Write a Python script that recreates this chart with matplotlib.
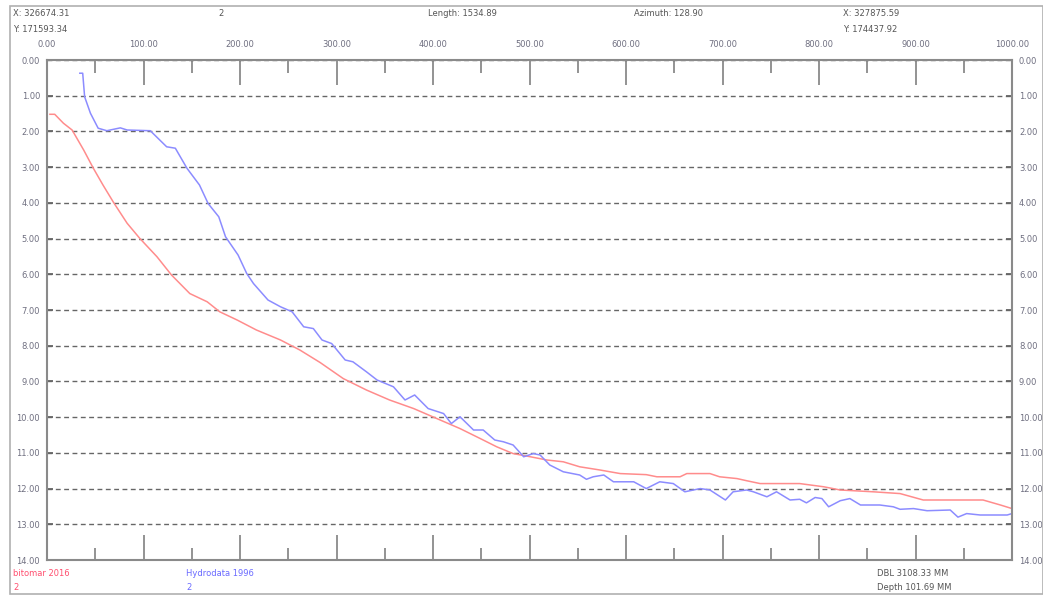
import matplotlib.pyplot as plt
from matplotlib.patches import Rectangle

# Survey profiles (chainage in m, depth in m)
red_x = [3, 8, 17, 26, 38, 48, 58, 69, 83, 96,
         114, 129, 148, 166, 179, 197, 217, 242, 262, 283,
         307, 331, 355, 380, 404, 428, 449, 466, 483, 501,
         518, 535, 552, 573, 594, 621, 632, 656, 663, 687,
         697, 715, 725, 739, 780, 805, 822, 856, 884, 908,
         939, 970, 988, 1000]
red_y = [1.52, 1.52, 1.77, 1.96, 2.52, 3.03, 3.5, 3.99, 4.57, 4.99,
         5.51, 6.02, 6.54, 6.77, 7.05, 7.28, 7.56, 7.84, 8.12, 8.47,
         8.92, 9.24, 9.52, 9.76, 10.04, 10.32, 10.6, 10.83, 11.02, 11.11,
         11.2, 11.25, 11.39, 11.48, 11.58, 11.61, 11.67, 11.67, 11.58, 11.58,
         11.67, 11.72, 11.78, 11.86, 11.86, 11.95, 12.04, 12.09, 12.14, 12.32,
         12.32, 12.32, 12.46, 12.56]

blue_x = [34, 37, 39, 45, 53, 62, 76, 83, 107, 124,
          133, 145, 158, 167, 178, 185, 198, 207, 214, 229,
          242, 254, 266, 276, 285, 295, 309, 317, 331, 342,
          359, 371, 381, 395, 411, 419, 428, 442, 452, 464,
          473, 483, 494, 504, 511, 521, 535, 552, 559, 566,
          577, 587, 608, 621, 635, 649, 661, 677, 687, 703,
          711, 725, 732, 746, 756, 770, 780, 787, 796, 803,
          810, 822, 832, 843, 863, 877, 884, 898, 912, 936,
          944, 953, 967, 995, 1000]
blue_y = [0.37, 0.37, 1.03, 1.49, 1.91, 1.98, 1.9, 1.96, 1.98, 2.43,
          2.47, 3.03, 3.5, 4.02, 4.39, 4.95, 5.46, 5.98, 6.26, 6.72,
          6.91, 7.05, 7.47, 7.52, 7.84, 7.94, 8.4, 8.45, 8.73, 8.96,
          9.15, 9.52, 9.38, 9.76, 9.9, 10.18, 9.99, 10.36, 10.36, 10.64,
          10.69, 10.78, 11.11, 11.02, 11.06, 11.34, 11.53, 11.62, 11.74, 11.67,
          11.62, 11.81, 11.81, 12.0, 11.81, 11.86, 12.09, 12.0, 12.04, 12.32,
          12.09, 12.04, 12.09, 12.23, 12.09, 12.32, 12.3, 12.4, 12.25, 12.28,
          12.51, 12.34, 12.28, 12.46, 12.46, 12.51, 12.58, 12.56, 12.62, 12.6,
          12.8, 12.7, 12.74, 12.74, 12.7]

x_ticks = [0, 100, 200, 300, 400, 500, 600, 700, 800, 900, 1000]
y_ticks = list(range(0, 15))

W, H = 1043, 596
fig = plt.figure(figsize=(W / 100, H / 100), dpi=100)
ax = fig.add_axes([47 / W, 1 - 560 / H, 965 / W, 500 / H])

ax.plot(red_x, red_y, color='#ff8c8c', lw=1.1)
ax.plot(blue_x, blue_y, color='#8c8cff', lw=1.1)

ax.set_xlim(0, 1000)
ax.set_ylim(14, 0)

# x ticks: top labels, major/minor ticks inward on top and bottom
ax.set_xticks(x_ticks)
ax.set_xticklabels([f"{v:.2f}" for v in x_ticks])
ax.set_xticks(range(50, 1000, 100), minor=True)
ax.tick_params(axis='x', which='major', direction='in', length=18, width=1.3,
               color='#8a8a8a', top=True, bottom=True, labeltop=True,
               labelbottom=False, labelsize=6, labelcolor='#6f6f80', pad=8)
ax.tick_params(axis='x', which='minor', direction='in', length=9, width=1.3,
               color='#8a8a8a', top=True, bottom=True)

# y ticks: labels both sides, dashed grid
ax.set_yticks(y_ticks)
ax.set_yticklabels([f"{v:.2f}" for v in y_ticks])
ax.tick_params(axis='y', which='major', direction='in', length=4, width=1.3,
               color='#666666', left=True, right=True, labelleft=True,
               labelright=True, labelsize=6, labelcolor='#6f6f80', pad=5)
ax.yaxis.grid(True, color='#666666', lw=1.0, ls=(0, (3.5, 2.5)))
ax.xaxis.grid(False)

for s in ax.spines.values():
    s.set_color('#8a8a8a')
    s.set_linewidth(1.5)

# outer frame
fig.patches.append(Rectangle((10 / W, 2 / H), 1 - 10 / W, 1 - 8 / H,
                             transform=fig.transFigure, fill=False,
                             ec='#b0b0b0', lw=1.2))

def ftxt(px, py, s, color='#555555'):
    fig.text(px / W, 1 - py / H, s, fontsize=6, color=color, va='center', ha='left')

# header info
ftxt(13, 14, "X: 326674.31")
ftxt(13, 30, "Y: 171593.34")
ftxt(218, 14, "2")
ftxt(428, 14, "Length: 1534.89")
ftxt(634, 14, "Azimuth: 128.90")
ftxt(843, 14, "X: 327875.59")
ftxt(843, 30, "Y: 174437.92")

# footer legend
ftxt(13, 574, "bitomar 2016", color='#ff4f6f')
ftxt(13, 587, "2", color='#ff4f6f')
ftxt(186, 574, "Hydrodata 1996", color='#6a6aff')
ftxt(186, 587, "2", color='#6a6aff')
ftxt(877, 574, "DBL 3108.33 MM")
ftxt(877, 587, "Depth 101.69 MM")

fig.savefig('out.png', dpi=100)
